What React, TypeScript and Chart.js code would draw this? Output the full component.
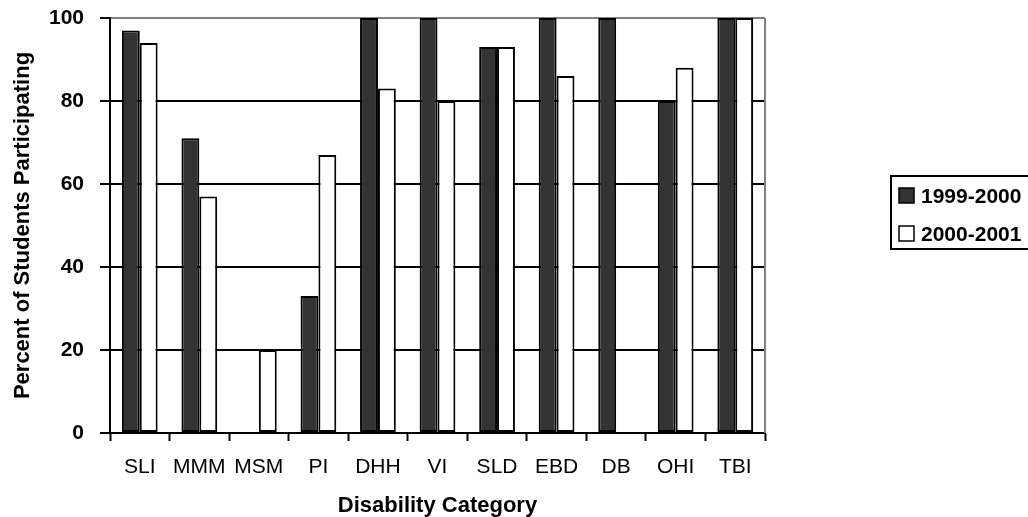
import React, { useEffect, useRef } from "react";
import { Chart, registerables } from "chart.js";

Chart.register(...registerables);

const categories = ["SLI", "MMM", "MSM", "PI", "DHH", "VI", "SLD", "EBD", "DB", "OHI", "TBI"];
const series1999 = [97, 71, 0, 33, 100, 100, 93, 100, 100, 80, 100];
const series2000 = [94, 57, 20, 67, 83, 80, 93, 86, 0, 88, 100];
const seriesLabels = ["1999-2000", "2000-2001"];
const seriesColors = ["#333333", "#ffffff"];
const yTicks = [0, 20, 40, 60, 80, 100];

const FONT = "'Liberation Sans', Arial, sans-serif";

const frameAndLegend = {
  id: "frameAndLegend",
  afterDraw(chart: any) {
    const { ctx, chartArea } = chart;
    ctx.save();
    // gray right border of plot area
    ctx.strokeStyle = "#808080";
    ctx.lineWidth = 2;
    ctx.beginPath();
    ctx.moveTo(chartArea.right, chartArea.top);
    ctx.lineTo(chartArea.right, chartArea.bottom);
    ctx.stroke();

    // legend box
    const bx = 891, by = 176, bw = 160, bh = 73;
    ctx.strokeStyle = "#000000";
    ctx.lineWidth = 2;
    ctx.fillStyle = "#ffffff";
    ctx.fillRect(bx, by, bw, bh);
    ctx.strokeRect(bx, by, bw, bh);
    const rows = [196, 234];
    ctx.font = `bold 21px ${FONT}`;
    ctx.textBaseline = "middle";
    ctx.textAlign = "left";
    seriesLabels.forEach((lab, i) => {
      const cy = rows[i];
      ctx.fillStyle = seriesColors[i];
      ctx.fillRect(899, cy - 8, 15, 15);
      ctx.lineWidth = 1.5;
      ctx.strokeStyle = "#000000";
      ctx.strokeRect(899, cy - 8, 15, 15);
      ctx.fillStyle = "#000000";
      ctx.fillText(lab, 921, cy + 1);
    });
    ctx.restore();
  },
};

export default function App() {
  const ref = useRef<HTMLCanvasElement | null>(null);
  useEffect(() => {
    document.body.style.margin = "0";
    const canvas = ref.current!;
    const chart = new Chart(canvas, {
      type: "bar",
      data: {
        labels: categories,
        datasets: [
          {
            label: seriesLabels[0],
            data: series1999,
            backgroundColor: seriesColors[0],
            borderColor: "#000000",
            borderWidth: 2,
            borderSkipped: false,
          },
          {
            label: seriesLabels[1],
            data: series2000,
            backgroundColor: seriesColors[1],
            borderColor: "#000000",
            borderWidth: 2,
            borderSkipped: false,
          },
        ],
      },
      options: {
        responsive: false,
        animation: false,
        events: [],
        layout: { padding: { top: 18, right: 263, left: 0, bottom: 0 } },
        datasets: { bar: { categoryPercentage: 0.6, barPercentage: 1.0 } },
        plugins: {
          legend: { display: false },
          tooltip: { enabled: false },
          title: { display: false },
        },
        scales: {
          x: {
            grid: {
              display: true,
              drawOnChartArea: false,
              drawTicks: true,
              tickLength: 8,
              tickColor: "#000000",
              tickWidth: 2,
              offset: true,
            },
            border: { display: true, color: "#000000", width: 2 },
            ticks: {
              color: "#000000",
              font: { family: FONT, size: 21, weight: "normal" },
              padding: 14,
              maxRotation: 0,
              autoSkip: false,
            },
            title: {
              display: true,
              text: "Disability Category",
              color: "#000000",
              font: { family: FONT, size: 22, weight: "bold" },
              padding: { top: 0, bottom: -2 },
            },
            afterFit: (scale: any) => {
              scale.height = 84;
              scale.paddingLeft = 0;
              scale.paddingRight = 0;
            },
          },
          y: {
            min: 0,
            max: 100,
            afterBuildTicks: (scale: any) => {
              scale.ticks = yTicks.map((v) => ({ value: v }));
            },
            grid: {
              color: (c: any) => (c.tick && c.tick.value === 100 ? "#808080" : "#000000"),
              lineWidth: 2,
              drawTicks: true,
              tickLength: 10,
              tickColor: "#000000",
              tickWidth: 2,
            },
            border: { display: true, color: "#000000", width: 2 },
            ticks: {
              color: "#000000",
              font: { family: FONT, size: 21, weight: "bold" },
              padding: 16,
            },
            title: {
              display: true,
              text: "Percent of Students Participating",
              color: "#000000",
              font: { family: FONT, size: 22, weight: "bold" },
              padding: { top: 10, bottom: 0 },
            },
            afterFit: (scale: any) => {
              scale.width = 110;
              scale.paddingTop = 0;
              scale.paddingBottom = 0;
            },
          },
        },
      },
      plugins: [frameAndLegend],
    });
    return () => chart.destroy();
  }, []);
  return (
    <div style={{ position: "fixed", left: 0, top: 0, width: 1028, height: 517, background: "#fff" }}>
      <canvas ref={ref} width={1028} height={517} style={{ display: "block" }} />
    </div>
  );
}
